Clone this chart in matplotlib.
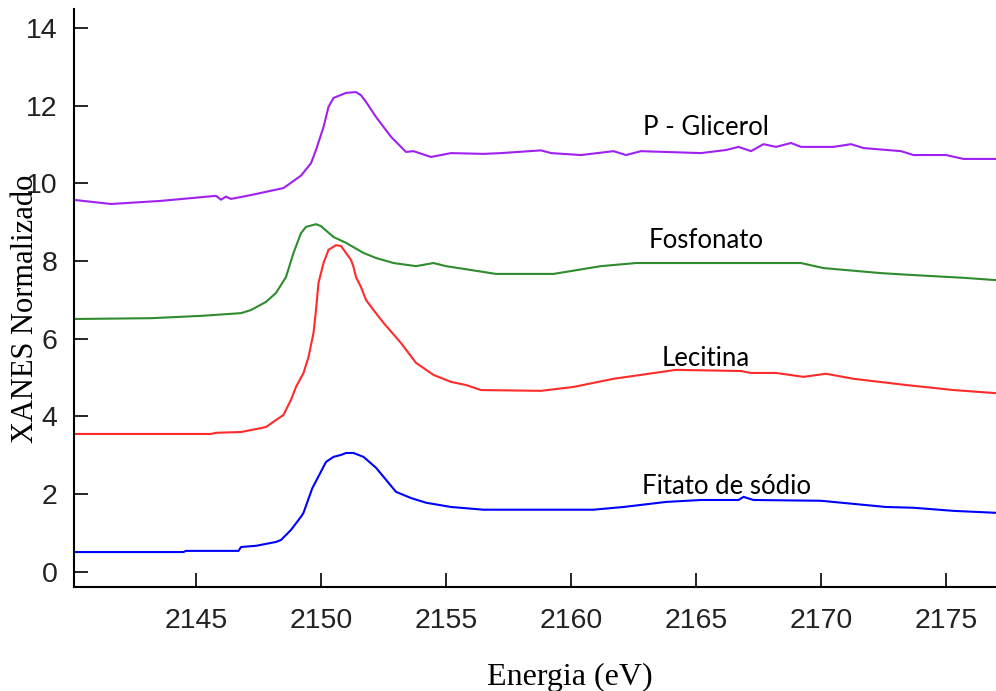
import matplotlib.pyplot as plt

# energies (eV) and normalised XANES intensity for each standard
e_glicerol = [2140.2, 2141.6, 2143.6, 2145.8, 2146.0, 2146.2, 2146.4, 2147.2, 2148.5, 2149.2,
              2149.6, 2149.8, 2150.1, 2150.3, 2150.5, 2151.0, 2151.4, 2151.6, 2151.8, 2152.2,
              2152.8, 2153.4, 2153.7, 2154.4, 2155.2, 2156.5, 2157.2, 2158.8, 2159.2, 2160.4,
              2161.7, 2162.2, 2162.8, 2165.2, 2166.2, 2166.7, 2167.2, 2167.7, 2168.2, 2168.8,
              2169.2, 2170.5, 2171.2, 2171.7, 2173.2, 2173.7, 2175.0, 2175.7, 2177.0]
y_glicerol = [9.57, 9.47, 9.55, 9.68, 9.58, 9.66, 9.60, 9.70, 9.88, 10.20,
              10.52, 10.86, 11.45, 11.97, 12.20, 12.33, 12.35, 12.27, 12.10, 11.71,
              11.20, 10.81, 10.83, 10.68, 10.78, 10.76, 10.78, 10.85, 10.78, 10.73,
              10.83, 10.73, 10.83, 10.78, 10.86, 10.94, 10.83, 11.01, 10.94, 11.04,
              10.94, 10.94, 11.01, 10.91, 10.83, 10.73, 10.73, 10.63, 10.63]

e_fosfonato = [2140.2, 2143.2, 2145.2, 2146.8, 2147.2, 2147.8, 2148.2, 2148.6, 2148.9, 2149.2,
               2149.4, 2149.8, 2150.0, 2150.5, 2151.0, 2151.7, 2152.2, 2152.9, 2153.8, 2154.5,
               2155.0, 2157.0, 2159.3, 2161.2, 2162.6, 2169.2, 2170.1, 2172.4, 2173.7, 2175.7,
               2177.0]
y_fosfonato = [6.51, 6.53, 6.59, 6.66, 6.74, 6.95, 7.18, 7.59, 8.21, 8.72,
               8.88, 8.95, 8.90, 8.62, 8.47, 8.21, 8.08, 7.95, 7.87, 7.95,
               7.87, 7.67, 7.67, 7.87, 7.95, 7.95, 7.82, 7.69, 7.64, 7.57,
               7.51]

e_lecitina = [2140.2, 2145.6, 2145.8, 2146.8, 2147.2, 2147.6, 2147.8, 2148.5, 2148.8, 2149.0,
              2149.3, 2149.5, 2149.7, 2149.8, 2149.9, 2150.1, 2150.3, 2150.6, 2150.8, 2151.2,
              2151.3, 2151.4, 2151.6, 2151.8, 2152.1, 2152.5, 2153.2, 2153.8, 2154.5, 2155.2,
              2155.8, 2156.4, 2158.8, 2160.1, 2161.7, 2164.2, 2166.8, 2167.2, 2168.2, 2169.3,
              2170.2, 2171.3, 2173.4, 2175.3, 2177.0]
y_lecitina = [3.55, 3.55, 3.58, 3.60, 3.65, 3.70, 3.73, 4.04, 4.43, 4.76,
              5.12, 5.53, 6.15, 6.74, 7.44, 7.95, 8.29, 8.41, 8.39, 8.03,
              7.85, 7.59, 7.33, 7.00, 6.74, 6.41, 5.89, 5.38, 5.07, 4.89,
              4.81, 4.68, 4.66, 4.76, 4.97, 5.20, 5.17, 5.12, 5.12, 5.02,
              5.10, 4.97, 4.81, 4.68, 4.60]

e_fitato = [2140.2, 2144.5, 2144.6, 2146.7, 2146.8, 2147.4, 2148.2, 2148.4, 2148.8, 2149.2,
            2149.3, 2149.65, 2150.2, 2150.5, 2150.8, 2151.0, 2151.3, 2151.7, 2152.2, 2153.0,
            2153.6, 2154.2, 2155.2, 2156.5, 2160.9, 2162.1, 2163.8, 2165.2, 2166.7, 2166.9,
            2167.3, 2170.0, 2171.3, 2172.6, 2173.7, 2175.3, 2177.0]
y_fitato = [0.51, 0.51, 0.54, 0.54, 0.64, 0.67, 0.77, 0.82, 1.08, 1.42,
            1.52, 2.15, 2.83, 2.96, 3.01, 3.06, 3.06, 2.96, 2.68, 2.06,
            1.90, 1.78, 1.67, 1.60, 1.60, 1.67, 1.80, 1.85, 1.85, 1.93,
            1.85, 1.83, 1.75, 1.67, 1.65, 1.57, 1.52]

names = ['P - Glicerol', 'Fosfonato', 'Lecitina', 'Fitato de sódio']
colors = ['#a020f0', '#2e8b2e', '#ff2a2a', '#0000ff']
label_x = [2165.4, 2165.4, 2165.4, 2166.2]
label_y = [11.45, 8.54, 5.5, 2.21]


def main():
    fig = plt.figure(figsize=(9.96, 6.91), dpi=100)
    ax = fig.add_axes([0.0743, 0.1505, 0.9257, 0.8365])

    series = [(e_glicerol, y_glicerol), (e_fosfonato, y_fosfonato),
              (e_lecitina, y_lecitina), (e_fitato, y_fitato)]
    for (e, y), c in zip(series, colors):
        ax.plot(e, y, color=c, linewidth=1.5)

    for name, x, y in zip(names, label_x, label_y):
        ax.text(x, y, name, family='Lato', fontsize=18.5, ha='center', va='center')

    ax.set_xlim(2140.12, 2177.0)
    ax.set_ylim(-0.39, 14.49)
    ax.set_xticks([2145, 2150, 2155, 2160, 2165, 2170, 2175])
    ax.set_yticks([0, 2, 4, 6, 8, 10, 12, 14])
    ax.tick_params(direction='in', length=10, width=1.2, labelsize=20.5,
                   labelcolor='#222222')
    ax.tick_params(axis='y', pad=12)
    ax.tick_params(axis='x', pad=15)
    for lbl in ax.get_xticklabels() + ax.get_yticklabels():
        lbl.set_family('Liberation Sans')
    ax.spines['top'].set_visible(False)
    ax.spines['right'].set_visible(False)
    ax.spines['left'].set_linewidth(1.5)
    ax.spines['bottom'].set_linewidth(1.5)

    fig.text(0.572, 0.009, 'Energia (eV)', family='Liberation Serif', fontsize=23,
             ha='center', va='baseline')
    fig.text(0.026, 0.553, 'XANES Normalizado', family='Liberation Serif', fontsize=22,
             ha='center', va='center', rotation=90)

    fig.savefig('out.png', dpi=100)


main()
